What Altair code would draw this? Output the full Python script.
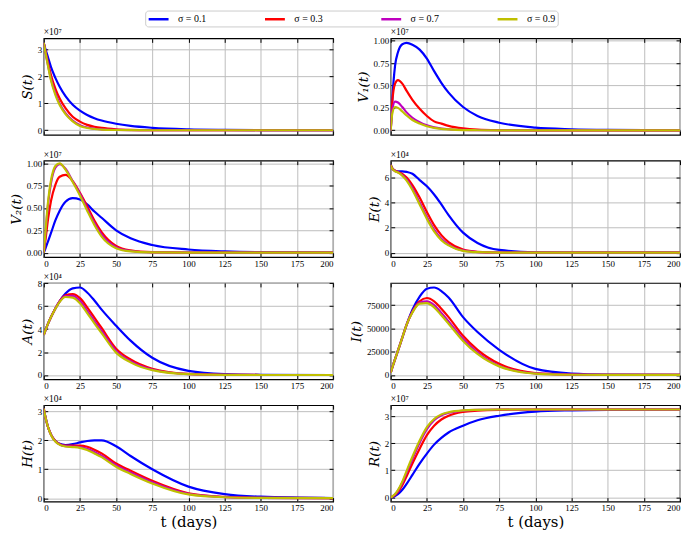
import altair as alt
import pandas as pd

FONT = "Liberation Serif"
TFONT = "DejaVu Serif"

T = [0, 1, 3, 5, 8, 11, 15, 20, 25, 30, 35, 40, 50, 60, 75, 100, 125, 150, 200]
SIGMAS = ["σ = 0.1", "σ = 0.3", "σ = 0.7", "σ = 0.9"]
COLORS = ["#0000ff", "#ff0000", "#bf00bf", "#bfbf00"]
XTICKS = [0, 25, 50, 75, 100, 125, 150, 175, 200]

# S(t), x1e7
S_01 = [3.25, 3.05, 2.7, 2.35, 1.95, 1.62, 1.27, 0.95, 0.73, 0.57, 0.45, 0.36, 0.24, 0.16, 0.09, 0.035, 0.015, 0.006, 0.001]
S_03 = [3.25, 2.98, 2.5, 2.05, 1.55, 1.18, 0.82, 0.5, 0.32, 0.2, 0.13, 0.085, 0.035, 0.015, 0.005, 0.001, 0, 0, 0]
S_07 = [3.25, 2.95, 2.4, 1.9, 1.38, 0.99, 0.64, 0.36, 0.19, 0.1, 0.055, 0.03, 0.01, 0.003, 0.001, 0, 0, 0, 0]
S_09 = [3.25, 2.94, 2.37, 1.85, 1.32, 0.94, 0.6, 0.33, 0.16, 0.085, 0.045, 0.025, 0.008, 0.002, 0, 0, 0, 0, 0]

# V1(t), x1e7
V1_01 = [0, 0.32, 0.72, 0.87, 0.96, 0.975, 0.955, 0.9, 0.8, 0.66, 0.53, 0.42, 0.26, 0.16, 0.085, 0.03, 0.012, 0.005, 0.001]
V1_03 = [0, 0.3, 0.52, 0.56, 0.52, 0.44, 0.34, 0.24, 0.16, 0.1, 0.075, 0.05, 0.022, 0.009, 0.003, 0, 0, 0, 0]
V1_07 = [0, 0.22, 0.32, 0.31, 0.26, 0.2, 0.14, 0.09, 0.055, 0.033, 0.02, 0.012, 0.004, 0.001, 0, 0, 0, 0, 0]
V1_09 = [0, 0.18, 0.26, 0.25, 0.21, 0.165, 0.115, 0.075, 0.045, 0.027, 0.016, 0.01, 0.003, 0.001, 0, 0, 0, 0, 0]

# V2(t), x1e7
V2_01 = [0, 0.04, 0.13, 0.22, 0.36, 0.47, 0.57, 0.61, 0.595, 0.54, 0.46, 0.39, 0.25, 0.16, 0.085, 0.035, 0.014, 0.005, 0.001]
V2_03 = [0, 0.12, 0.38, 0.58, 0.76, 0.85, 0.87, 0.8, 0.67, 0.52, 0.36, 0.23, 0.075, 0.025, 0.005, 0, 0, 0, 0]
V2_07 = [0, 0.18, 0.55, 0.78, 0.95, 0.99, 0.94, 0.8, 0.66, 0.49, 0.33, 0.2, 0.06, 0.018, 0.003, 0, 0, 0, 0]
V2_09 = [0, 0.2, 0.58, 0.81, 0.97, 1.0, 0.93, 0.79, 0.64, 0.47, 0.31, 0.18, 0.05, 0.014, 0.002, 0, 0, 0, 0]

# E(t), x1e4
E_01 = [7.0, 6.75, 6.55, 6.5, 6.5, 6.45, 6.3, 5.8, 5.3, 4.65, 3.85, 3.0, 1.6, 0.78, 0.22, 0.03, 0.005, 0, 0]
E_03 = [7.0, 6.75, 6.55, 6.45, 6.3, 6.0, 5.4, 4.4, 3.25, 2.2, 1.4, 0.85, 0.25, 0.07, 0.01, 0, 0, 0, 0]
E_07 = [7.0, 6.73, 6.52, 6.42, 6.2, 5.85, 5.15, 4.0, 2.85, 1.85, 1.12, 0.65, 0.18, 0.05, 0.007, 0, 0, 0, 0]
E_09 = [7.0, 6.72, 6.5, 6.4, 6.15, 5.75, 5.0, 3.85, 2.7, 1.7, 1.0, 0.58, 0.15, 0.04, 0.005, 0, 0, 0, 0]

# A(t), x1e4
A_01 = [3.5, 3.85, 4.5, 5.05, 5.8, 6.45, 7.1, 7.55, 7.63, 7.2, 6.5, 5.7, 4.3, 3.0, 1.5, 0.36, 0.08, 0.02, 0]
A_03 = [3.5, 3.85, 4.5, 5.05, 5.8, 6.45, 6.95, 7.05, 6.7, 5.9, 5.0, 4.1, 2.3, 1.35, 0.55, 0.1, 0.02, 0, 0]
A_07 = [3.5, 3.85, 4.5, 5.05, 5.8, 6.42, 6.88, 6.9, 6.45, 5.6, 4.7, 3.85, 2.1, 1.2, 0.48, 0.08, 0.015, 0, 0]
A_09 = [3.5, 3.85, 4.5, 5.05, 5.78, 6.38, 6.8, 6.75, 6.25, 5.4, 4.5, 3.65, 1.95, 1.1, 0.42, 0.07, 0.012, 0, 0]

# I(t)
I_01 = [2500, 7500, 17000, 26000, 40000, 54000, 70000, 84000, 92500, 93800, 90000, 83000, 62000, 46000, 27000, 6500, 1500, 400, 0]
I_03 = [2500, 7500, 17000, 26000, 40000, 54000, 68000, 79000, 82500, 79000, 71000, 62000, 42000, 27000, 12000, 2000, 400, 0, 0]
I_07 = [2500, 7500, 17000, 26000, 40000, 54000, 67500, 77500, 79000, 75000, 66500, 57500, 38500, 24000, 10000, 1700, 300, 0, 0]
I_09 = [2500, 7500, 17000, 26000, 40000, 54000, 67000, 76500, 77000, 72500, 64000, 55000, 36500, 22500, 9200, 1500, 250, 0, 0]

# H(t), x1e4
H_01 = [3.1, 2.85, 2.45, 2.2, 1.98, 1.88, 1.84, 1.87, 1.93, 1.98, 2.0, 2.0, 1.8, 1.46, 1.0, 0.4, 0.14, 0.05, 0.005]
H_03 = [3.1, 2.84, 2.45, 2.2, 1.98, 1.87, 1.82, 1.82, 1.82, 1.78, 1.68, 1.55, 1.2, 0.95, 0.6, 0.17, 0.045, 0.01, 0]
H_07 = [3.1, 2.84, 2.45, 2.2, 1.97, 1.86, 1.8, 1.79, 1.77, 1.71, 1.6, 1.47, 1.14, 0.89, 0.55, 0.15, 0.038, 0.008, 0]
H_09 = [3.1, 2.84, 2.45, 2.19, 1.96, 1.85, 1.79, 1.77, 1.74, 1.67, 1.55, 1.42, 1.09, 0.84, 0.51, 0.13, 0.032, 0.007, 0]

# R(t), x1e7
R_01 = [0, 0.01, 0.05, 0.12, 0.28, 0.5, 0.83, 1.25, 1.62, 1.95, 2.2, 2.4, 2.65, 2.85, 3.02, 3.17, 3.22, 3.24, 3.25]
R_03 = [0, 0.02, 0.09, 0.2, 0.45, 0.78, 1.25, 1.8, 2.3, 2.65, 2.88, 3.02, 3.16, 3.21, 3.24, 3.25, 3.25, 3.25, 3.25]
R_07 = [0, 0.03, 0.11, 0.25, 0.54, 0.92, 1.42, 2.02, 2.52, 2.85, 3.04, 3.13, 3.21, 3.24, 3.25, 3.25, 3.25, 3.25, 3.25]
R_09 = [0, 0.03, 0.12, 0.27, 0.58, 0.98, 1.5, 2.1, 2.6, 2.9, 3.07, 3.15, 3.22, 3.24, 3.25, 3.25, 3.25, 3.25, 3.25]

W = 291
H = 97

# short flat stroke symbol: drawn 20px long but only 10px of legend height
legend = alt.Legend(
    title=None,
    orient="none",
    legendX=102,
    legendY=-28,
    direction="horizontal",
    columns=4,
    symbolType="M-1,0H3",
    symbolStrokeWidth=2.5,
    symbolSize=100,
    labelFont=FONT,
    labelFontSize=10,
    labelOffset=18,
    columnPadding=53,
    strokeColor="#cccccc",
    fillColor="white",
    cornerRadius=3,
    padding=2,
)


def tick_axis(orient, values):
    # ticks only, pulled 4px inside the frame so they point inward
    return alt.Axis(orient=orient, offset=-4, tickSize=4, ticks=True,
                    tickColor="black", tickWidth=1, labels=False,
                    domain=False, grid=False, title=None, values=values)


def panel(series, ytitle, ydom, yticks, yfmt, mult, xlabels, xtitle):
    df = pd.DataFrame([
        {"t": tt, "v": vv, "sigma": s}
        for s, vals in zip(SIGMAS, series)
        for tt, vv in zip(T, vals)
    ])
    xs = alt.Scale(domain=[0, 200], nice=False, zero=False)
    ys = alt.Scale(domain=ydom, nice=False, zero=False)
    lines = alt.Chart(df).mark_line(
        strokeWidth=2.2, interpolate="monotone", clip=True
    ).encode(
        x=alt.X("t:Q", scale=xs,
                axis=alt.Axis(orient="bottom", values=XTICKS, labels=xlabels, title=xtitle,
                              titleFont=TFONT, titleFontSize=15, titlePadding=2)),
        y=alt.Y("v:Q", scale=ys,
                axis=alt.Axis(orient="left", values=yticks, format=yfmt, title=ytitle,
                              titleFont=TFONT, titleFontStyle="italic",
                              titleFontSize=13.5, titlePadding=3)),
        color=alt.Color("sigma:N", scale=alt.Scale(domain=SIGMAS, range=COLORS),
                        legend=legend),
    )
    ticks_lb = alt.Chart(df).mark_line(strokeOpacity=0).encode(
        x=alt.X("t:Q", scale=xs, axis=tick_axis("bottom", XTICKS)),
        y=alt.Y("v:Q", scale=ys, axis=tick_axis("left", yticks)),
    )
    ticks_rt = alt.Chart(df).mark_line(strokeOpacity=0).encode(
        x=alt.X("t:Q", scale=xs, axis=tick_axis("top", XTICKS)),
        y=alt.Y("v:Q", scale=ys, axis=tick_axis("right", yticks)),
    )
    layers = [lines, ticks_lb, ticks_rt]
    if mult:
        txt = alt.Chart(pd.DataFrame({"m": [mult]})).mark_text(
            align="left", baseline="bottom", font=FONT, fontSize=9.5, dy=-1
        ).encode(x=alt.value(0), y=alt.value(0), text="m:N")
        layers.append(txt)
    ch = alt.layer(*layers).resolve_axis(x="independent", y="independent")
    return ch.properties(width=W, height=H)


p_S = panel([S_01, S_03, S_07, S_09], "S(t)", [-0.17, 3.42], [0, 1, 2, 3], "d", "×10⁷", False, None)
p_V1 = panel([V1_01, V1_03, V1_07, V1_09], "V₁(t)", [-0.05, 1.025], [0, 0.25, 0.5, 0.75, 1.0], ".2f", "×10⁷", False, None)
p_V2 = panel([V2_01, V2_03, V2_07, V2_09], "V₂(t)", [-0.05, 1.03], [0, 0.25, 0.5, 0.75, 1.0], ".2f", "×10⁷", True, None)
p_E = panel([E_01, E_03, E_07, E_09], "E(t)", [-0.35, 7.35], [0, 2, 4, 6], "d", "×10⁴", True, None)
p_A = panel([A_01, A_03, A_07, A_09], "A(t)", [-0.38, 8.03], [0, 2, 4, 6, 8], "d", "×10⁴", True, None)
p_I = panel([I_01, I_03, I_07, I_09], "I(t)", [-4700, 98700], [0, 25000, 50000, 75000], "d", None, True, None)
p_H = panel([H_01, H_03, H_07, H_09], "H(t)", [-0.12, 3.22], [0, 1, 2, 3], "d", "×10⁴", True, "t (days)")
p_R = panel([R_01, R_03, R_07, R_09], "R(t)", [-0.16, 3.41], [0, 1, 2, 3], "d", "×10⁷", True, "t (days)")

chart = alt.concat(
    p_S, p_V1, p_V2, p_E, p_A, p_I, p_H, p_R,
    columns=2,
    spacing=alt.RowColnumber(row=26, column=58),
    bounds="flush",
).properties(
    padding={"left": 0, "top": 0, "right": 0, "bottom": 0}
).configure_view(
    stroke="black", strokeWidth=1.2
).configure_axis(
    grid=True,
    gridColor="#bdbdbd",
    gridWidth=1,
    domain=False,
    ticks=False,
    labelFont=FONT,
    labelFontSize=9,
    labelColor="black",
    labelPadding=2,
    titleFontWeight="normal",
    titleColor="black",
)

chart.save("out.html", embed_options={"renderer": "svg", "actions": False})
